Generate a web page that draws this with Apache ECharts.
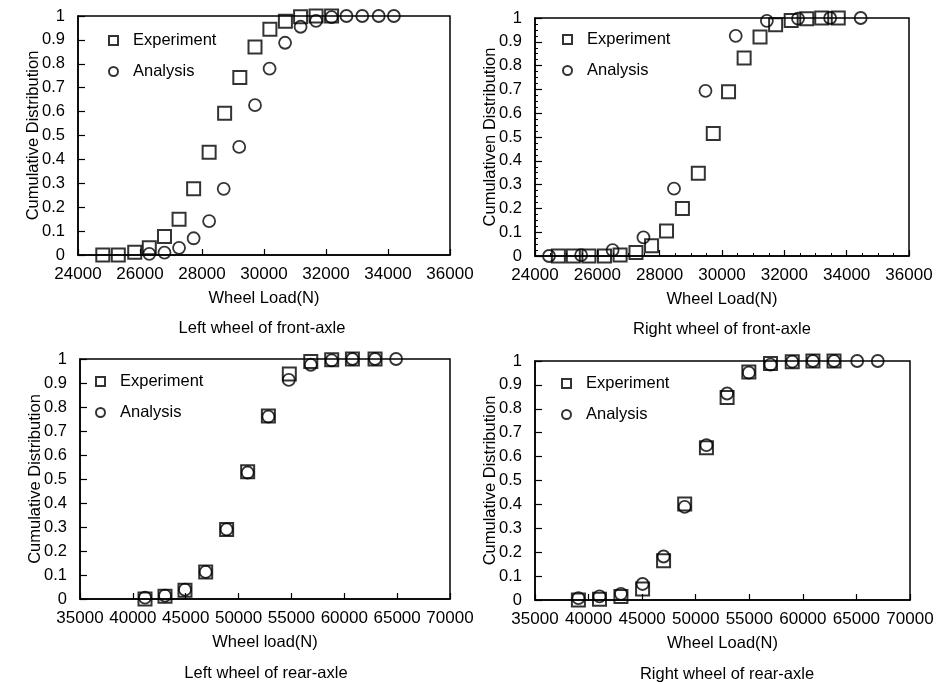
<!DOCTYPE html>
<html>
<head>
<meta charset="utf-8">
<script src="https://cdn.jsdelivr.net/npm/echarts@6/dist/echarts.min.js"></script>
<style>
html,body{margin:0;padding:0;background:#fff;}
#chart{width:937px;height:684px;}
</style>
</head>
<body>
<div id="chart"></div>
<script>
// ---- data ----
// Panel 1: Left wheel of front-axle
const p1ExpX = [24800,25300,25830,26300,26790,27260,27730,28230,28730,29220,29710,30190,30690,31180,31680,32180];
const p1ExpY = [0,0,0.011,0.03,0.077,0.15,0.277,0.43,0.593,0.743,0.87,0.945,0.978,0.997,1,1];
const p1AnaX = [26300,26790,27260,27730,28230,28700,29200,29710,30180,30680,31180,31680,32180,32660,33170,33700,34190];
const p1AnaY = [0.005,0.01,0.03,0.07,0.142,0.277,0.452,0.627,0.78,0.888,0.955,0.98,0.995,1,1,1,1];
// Panel 2: Right wheel of front-axle
const p2ExpX = [24750,25230,25730,26230,26730,27240,27740,28220,28730,29240,29720,30210,30710,31220,31720,32220,32720,33200,33730];
const p2ExpY = [0,0,0,0,0.004,0.015,0.043,0.105,0.2,0.348,0.515,0.69,0.832,0.92,0.972,0.99,0.997,1,1];
const p2AnaX = [24450,25480,26490,27480,28460,29470,30440,31440,32440,33470,34450];
const p2AnaY = [0,0.004,0.025,0.078,0.283,0.694,0.925,0.988,0.997,1,1];
// Panel 3: Left wheel of rear-axle
const p3ExpX = [41150,43040,44930,46890,48870,50860,52820,54800,56830,58810,60770,62910];
const p3ExpY = [0,0.011,0.036,0.113,0.29,0.53,0.763,0.938,0.99,0.997,1,1];
const p3AnaX = [41150,43040,44930,46890,48870,50860,52820,54750,56830,58810,60770,62910,64900];
const p3AnaY = [0.006,0.014,0.039,0.113,0.29,0.527,0.76,0.913,0.976,0.994,1,1,1];
// Panel 4: Right wheel of rear-axle
const p4ExpX = [39050,41020,43020,45040,47000,48970,51000,52930,54960,56980,59010,60940,62910];
const p4ExpY = [0,0.003,0.015,0.046,0.164,0.402,0.637,0.847,0.954,0.99,0.997,1,1];
const p4AnaX = [39050,41020,43020,45040,47000,48970,51000,52930,54960,56980,59010,60940,62910,65070,66990];
const p4AnaY = [0.008,0.015,0.026,0.067,0.182,0.39,0.648,0.864,0.951,0.985,0.997,1,1,1,1];

const seriesNames = ['Experiment','Analysis'];
const xTitles = ['Wheel Load(N)','Wheel Load(N)','Wheel load(N)','Wheel Load(N)'];
const yTitles = ['Cumulative Distribution','Cumulativen Distribution','Cumulative Distribution','Cumulative Distribution'];
const captions = ['Left wheel of front-axle','Right wheel of front-axle','Left wheel of rear-axle','Right wheel of rear-axle'];
const xRanges = [[24000,36000,2000],[24000,36000,2000],[35000,70000,5000],[35000,70000,5000]];

// ---- layout ----
const FONT = "'Liberation Sans', Arial, sans-serif";
const grids = [
  {left:78, top:16, width:372, height:239},
  {left:535, top:18, width:374, height:238},
  {left:80, top:359, width:370, height:240},
  {left:535, top:361, width:375, height:239}
];
const legendPos = [
  {left:103, top:27},
  {left:557, top:26},
  {left:90, top:368},
  {left:556, top:370}
];
const captionPos = [[262,328],[722,329],[266,673],[727,674]];

const pairs = [
  [p1ExpX,p1ExpY,p1AnaX,p1AnaY],
  [p2ExpX,p2ExpY,p2AnaX,p2AnaY],
  [p3ExpX,p3ExpY,p3AnaX,p3AnaY],
  [p4ExpX,p4ExpY,p4AnaX,p4AnaY]
];
const zip = (xs, ys) => xs.map((x, i) => [x, ys[i]]);

const option = {
  backgroundColor: '#fff',
  animation: false,
  textStyle: {fontFamily: FONT},
  grid: grids.map(g => Object.assign({show:true, borderColor:'#000', borderWidth:1.5, backgroundColor:'transparent'}, g)),
  xAxis: xRanges.map((r, i) => ({
    type: 'value', gridIndex: i, min: r[0], max: r[1], interval: r[2],
    name: xTitles[i], nameLocation: 'middle', nameGap: 35, nameMoveOverlap: false,
    nameTextStyle: {color:'#000', fontSize:16.5, fontFamily: FONT},
    axisLine: {show:true, onZero:false, lineStyle:{color:'#000', width:1.5}},
    axisTick: {show:true, inside:true, length:6, lineStyle:{color:'#000', width:1.2}},
    minorTick: {show: i === 1, splitNumber: 4, length: 3, lineStyle:{color:'#000', width:1}},
    axisLabel: {color:'#000', fontSize:17, margin:11, fontFamily: FONT, showMaxLabel:true, showMinLabel:true,
      formatter: v => String(v)},
    splitLine: {show:false}
  })),
  yAxis: grids.map((g, i) => ({
    type: 'value', gridIndex: i, min: 0, max: 1, interval: 0.1,
    name: yTitles[i], nameLocation: 'middle', nameGap: 36, nameRotate: 90, nameMoveOverlap: false,
    nameTextStyle: {color:'#000', fontSize:16.5, fontFamily: FONT},
    axisLine: {show:true, lineStyle:{color:'#000', width:1.5}},
    axisTick: {show:true, inside:true, length:7, lineStyle:{color:'#000', width:1.2}},
    minorTick: {show: i === 1, splitNumber: 4, length: 3, lineStyle:{color:'#000', width:1}},
    axisLabel: {color:'#000', fontSize:16.5, margin:13, fontFamily: FONT},
    splitLine: {show:false}
  })),
  legend: legendPos.map((p, i) => ({
    orient: 'vertical', left: p.left, top: p.top,
    itemWidth: 9, itemHeight: 9, itemGap: 14,
    data: seriesNames.map(n => n + '\u200b'.repeat(i)),
    formatter: name => name.replace(/\u200b/g, ''),
    textStyle: {color:'#000', fontSize:16.5, fontFamily: FONT, padding:[0,0,0,10]},
    selectedMode: false
  })),
  series: [],
  graphic: captions.map((c, i) => ({
    type: 'text',
    x: captionPos[i][0], y: captionPos[i][1],
    style: {text: c, fill:'#000', font: '16.5px ' + FONT, textAlign:'center', textVerticalAlign:'middle'},
    silent: true
  }))
};

pairs.forEach((p, i) => {
  const suffix = '\u200b'.repeat(i);
  option.series.push({
    name: seriesNames[0] + suffix, type: 'scatter', xAxisIndex: i, yAxisIndex: i,
    symbol: 'rect', symbolSize: 13,
    itemStyle: {color:'rgba(255,255,255,0)', borderColor:'#000', borderWidth:2},
    data: zip(p[0], p[1]), z: 3
  });
  option.series.push({
    name: seriesNames[1] + suffix, type: 'scatter', xAxisIndex: i, yAxisIndex: i,
    symbol: 'circle', symbolSize: 12,
    itemStyle: {color:'rgba(255,255,255,0)', borderColor:'#000', borderWidth:1.8},
    data: zip(p[2], p[3]), z: 3
  });
});

const chart = echarts.init(document.getElementById('chart'), null, {renderer:'canvas'});
chart.setOption(option);
</script>
</body>
</html>
